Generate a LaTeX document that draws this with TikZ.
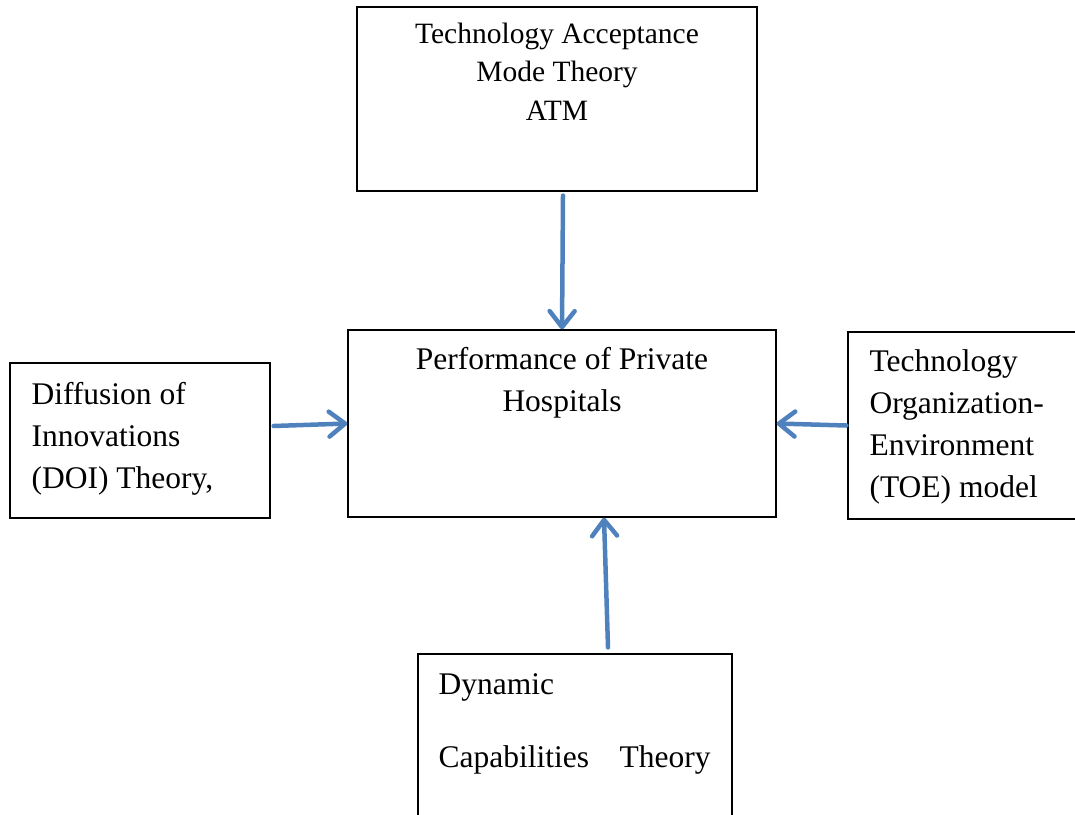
\documentclass[tikz,border=0pt]{standalone}
\usepackage{fontspec}
\setmainfont{Liberation Serif}
\usetikzlibrary{arrows.meta,positioning}
\definecolor{arrblue}{RGB}{79,129,189}

\begin{document}
\begin{tikzpicture}[x=1pt,y=-1pt]
    \tikzstyle{tbox}=[draw,line width=1.3pt,inner sep=0pt]
    \tikzstyle{ttext}=[inner sep=0pt,font=\fontsize{31.5}{42}\selectfont]
    \tikzstyle{marr}=[arrblue,line width=4.5pt,line cap=round,-{Straight Barb[length=16pt,width=25pt,round]}]

    \clip (0,0) rectangle (1075,814);

    % the five boxes
    \node[tbox,minimum width=400pt,minimum height=184pt] (atm) at (557,99) {};
    \node[tbox,minimum width=428pt,minimum height=187pt] (perf) at (562,423.5) {};
    \node[tbox,minimum width=260pt,minimum height=155pt] (doi) at (140,440.5) {};
    \node[tbox,minimum width=262pt,minimum height=187pt] (toe) at (979,425.5) {};
    \node[tbox,minimum width=314pt,minimum height=206pt] (dct) at (575,757) {};

    % texts (base = last line)
    \node[ttext,font=\fontsize{29.5}{38.5}\selectfont,align=center,anchor=base] (atmtxt) at ([yshift=-114pt]atm.north)
        {Technology Acceptance\\Mode Theory\\ATM};
    \node[ttext,align=center,anchor=base] (perftxt) at ([yshift=-82pt]perf.north)
        {Performance of Private\\Hospitals};
    \node[ttext,align=left,anchor=base west] (doitxt) at ([xshift=22pt,yshift=-126pt]doi.north west)
        {Diffusion of\\Innovations\\(DOI) Theory,};
    \node[ttext,align=left,anchor=base west] (toetxt) at ([xshift=22pt,yshift=-166pt]toe.north west)
        {Technology\\Organization-\\Environment\\(TOE) model};
    \node[ttext,align=left,anchor=base west] (dcttxt) at ([xshift=21pt,yshift=-114pt]dct.north west)
        {Dynamic\\[31pt]\makebox[272pt][s]{Capabilities Theory}};

    % arrows into the middle box
    \draw[marr] ([xshift=6pt,yshift=-4pt]atm.south) -- (perf.north);
    \draw[marr] ([xshift=3pt,yshift=14.5pt]doi.east) -- (perf.west);
    \draw[marr] ([xshift=-1pt]toe.west) -- (perf.east);
    \draw[marr] ([xshift=33pt,yshift=6pt]dct.north) -- ([xshift=42pt]perf.south);

\end{tikzpicture}
\end{document}
